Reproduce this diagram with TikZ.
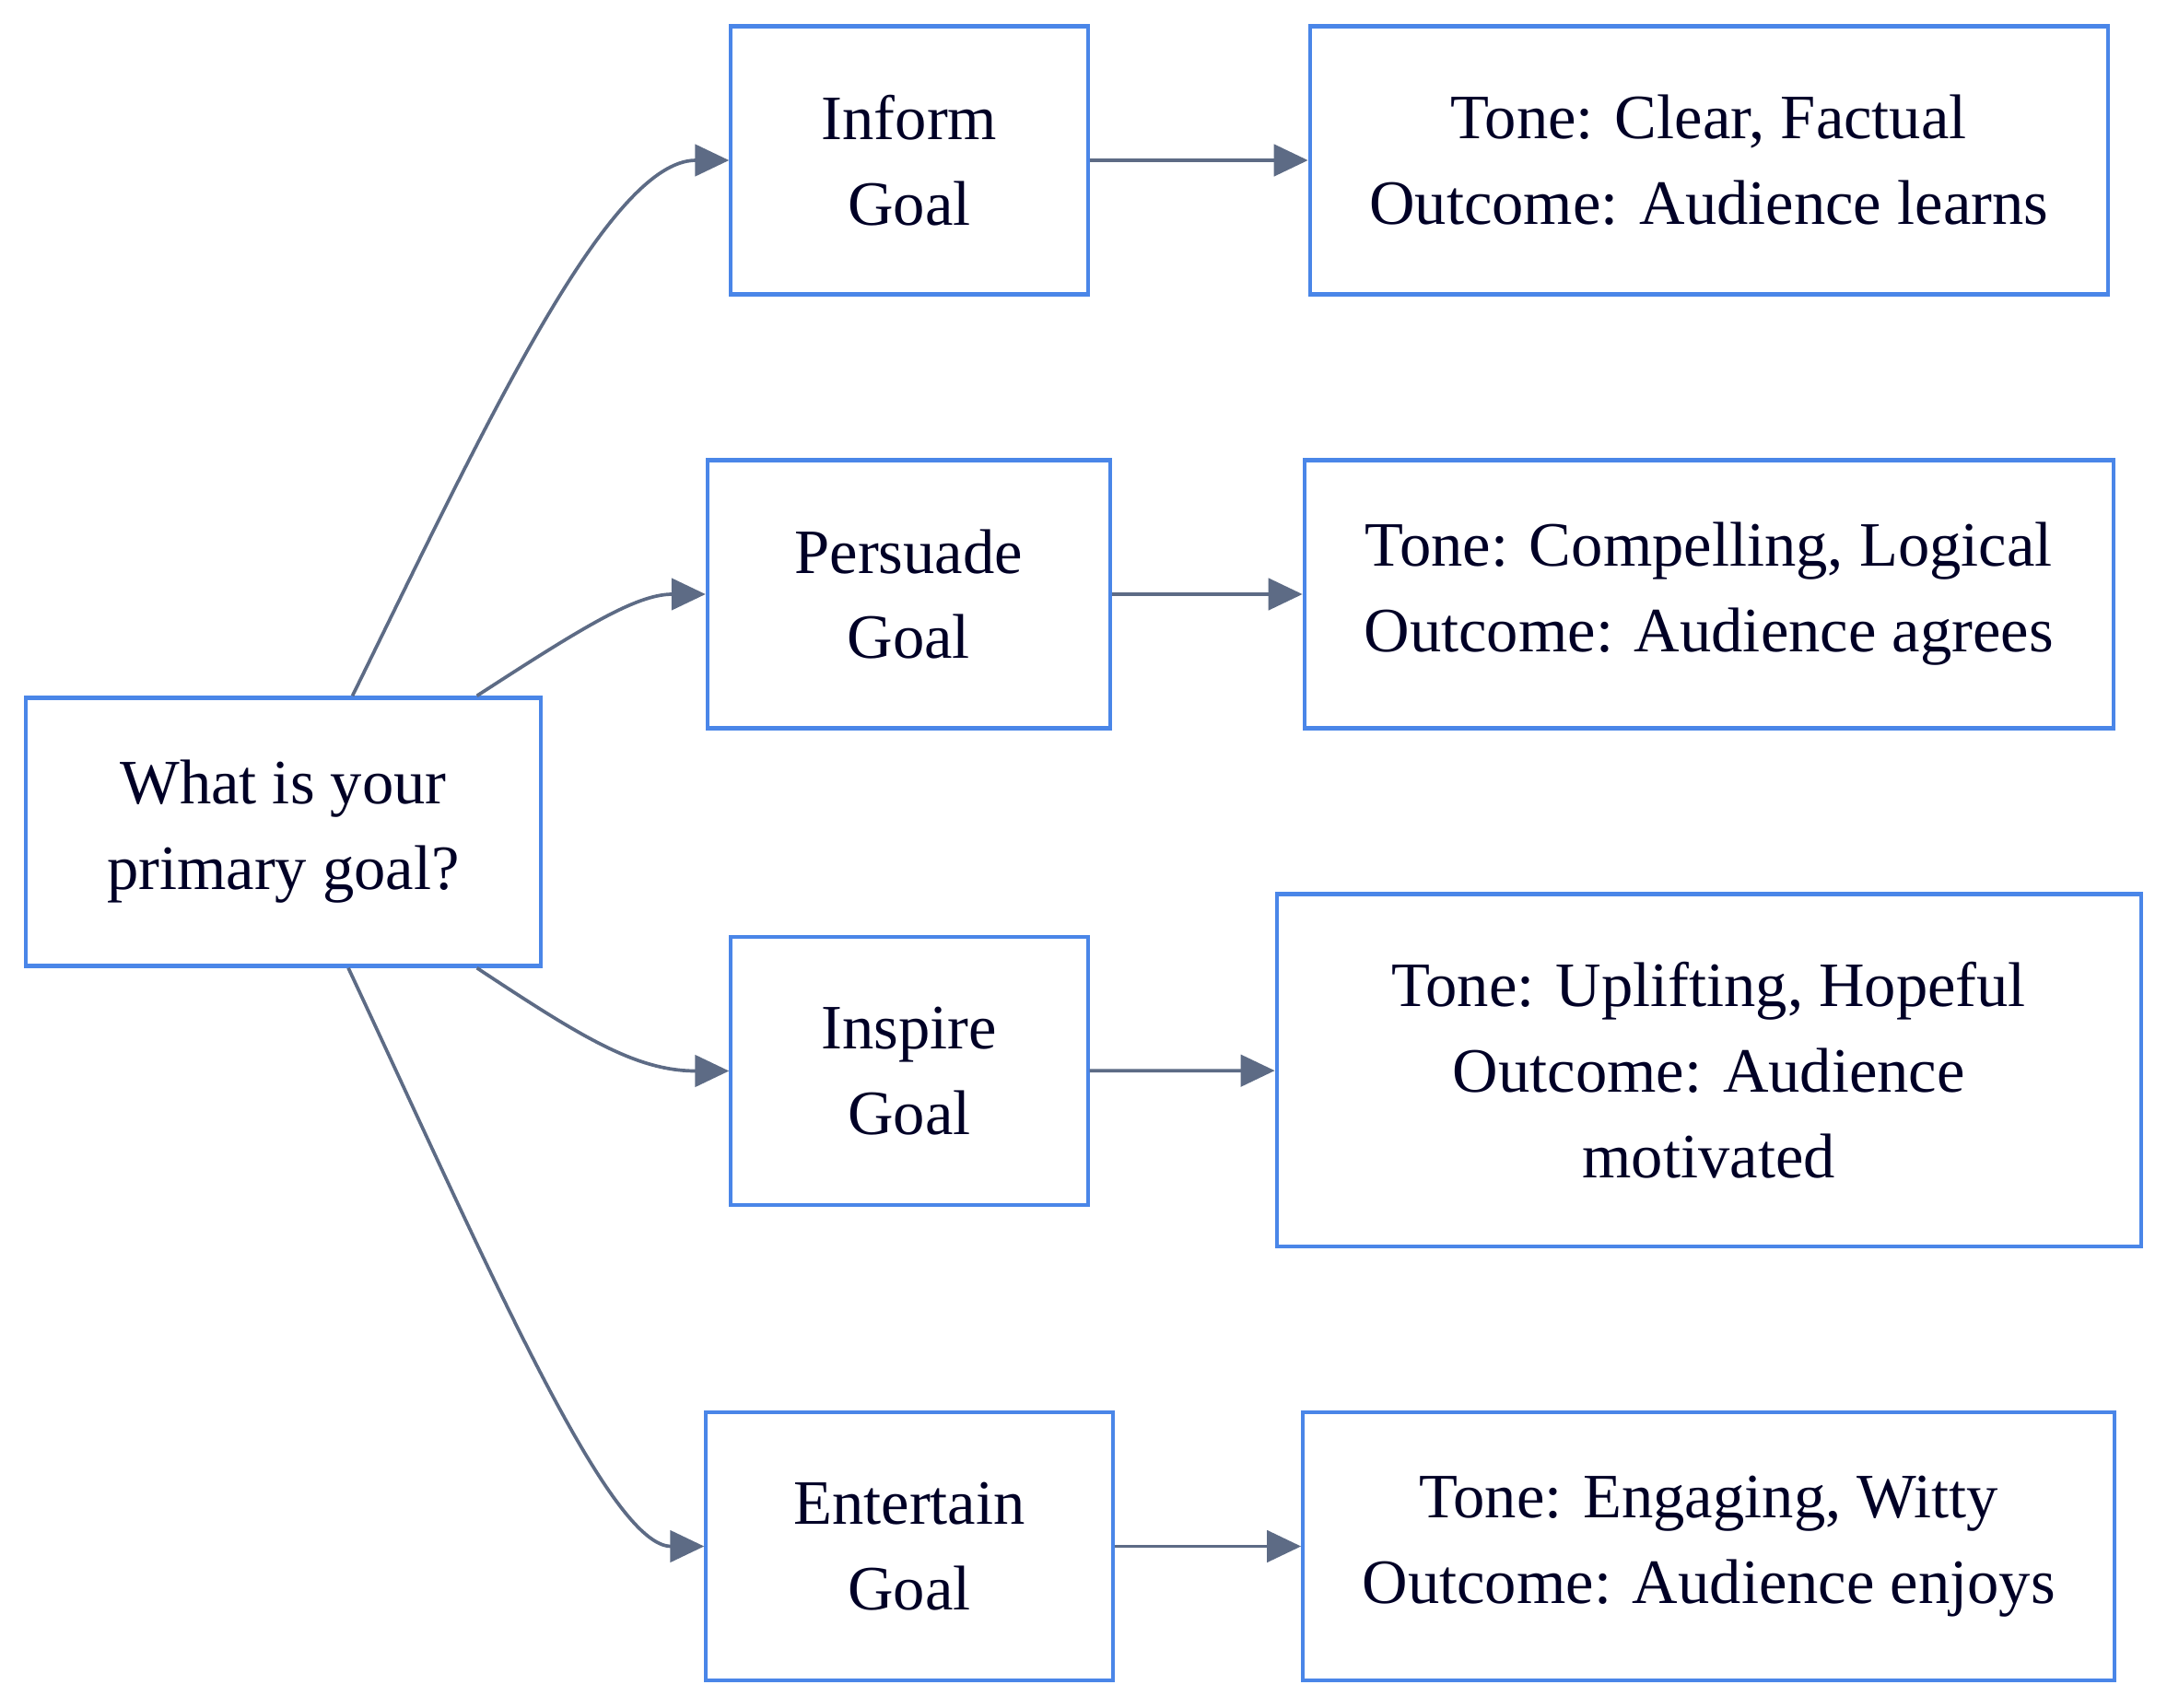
\documentclass[tikz,border=0pt]{standalone}
\usepackage{fontspec}
\setmainfont{Liberation Serif}
\usetikzlibrary{positioning, arrows.meta}
\definecolor{boxblue}{HTML}{4A86E8}
\definecolor{linkgray}{HTML}{5D6B85}
\tikzstyle{goal} = [rectangle, draw=boxblue, line width=0.8pt, minimum height=1.94cm, align=center, font=\fontsize{13pt}{17.6pt}\selectfont, text=black!85!blue]
\tikzstyle{arrow} = [draw=linkgray, line width=0.7pt, -{Triangle[length=7pt,width=6.5pt]}]

\begin{document}
\begin{tikzpicture}[x=0.01cm, y=-0.01cm]
        \useasboundingbox (0,0) rectangle (1568,1236);
        \node (question) [goal, minimum width=3.72cm] at (205,602) {What is your\\primary goal?};
        \node (inform) [goal, minimum width=2.58cm] at (658,116) {Inform\\Goal};
        \node (persuade) [goal, minimum width=2.91cm] at (657.5,430) {Persuade\\Goal};
        \node (inspire) [goal, minimum width=2.58cm] at (658,775) {Inspire\\Goal};
        \node (entertain) [goal, minimum width=2.94cm] at (658,1119) {Entertain\\Goal};
        \node (inform_out) [goal, minimum width=5.77cm] at (1236.5,116) {Tone: Clear, Factual\\Outcome: Audience learns};
        \node (persuade_out) [goal, minimum width=5.85cm] at (1236.5,430) {Tone: Compelling, Logical\\Outcome: Audience agrees};
        \node (inspire_out) [goal, minimum width=6.25cm, minimum height=2.55cm] at (1236.5,774.5) {Tone: Uplifting, Hopeful\\Outcome: Audience\\motivated};
        \node (entertain_out) [goal, minimum width=5.87cm] at (1236.5,1119) {Tone: Engaging, Witty\\Outcome: Audience enjoys};

        \draw [arrow] ([xshift=0.5cm]question.north) .. controls (350,310) and (440,116) .. (inform.west);
        \draw [arrow] ([xshift=1.4cm]question.north) .. controls (420,455) and (460,430) .. (persuade.west);
        \draw [arrow] ([xshift=1.4cm]question.south) .. controls (420,750) and (460,775) .. (inspire.west);
        \draw [arrow] ([xshift=0.47cm]question.south) .. controls (350,910) and (440,1119) .. (entertain.west);
        \draw [arrow] (inform) -- (inform_out);
        \draw [arrow] (persuade) -- (persuade_out);
        \draw [arrow] (inspire) -- (inspire_out);
        \draw [arrow] (entertain) -- (entertain_out);
\end{tikzpicture}
\end{document}
